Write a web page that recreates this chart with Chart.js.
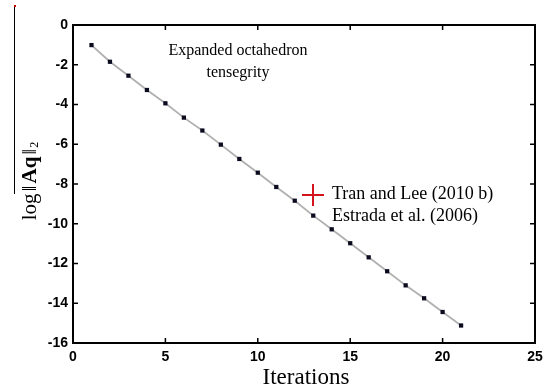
<!DOCTYPE html>
<html>
<head>
<meta charset="utf-8">
<script src="https://cdn.jsdelivr.net/npm/chart.js@4/dist/chart.umd.min.js"></script>
<style>
  html, body { margin: 0; padding: 0; background: #fff; }
  #wrap { width: 550px; height: 391px; }
</style>
</head>
<body>
<div id="wrap"><canvas id="myChart"></canvas></div>
<script>
// values
var iterations = [1, 2, 3, 4, 5, 6, 7, 8, 9, 10, 11, 12, 13, 14, 15, 16, 17, 18, 19, 20, 21];
var logAq = [-1.01, -1.85, -2.55, -3.27, -3.94, -4.66, -5.31, -6.02, -6.74, -7.43, -8.15,
             -8.84, -9.59, -10.28, -10.98, -11.69, -12.39, -13.10, -13.75, -14.44, -15.12];
var xTicks = [0, 5, 10, 15, 20, 25];
var yTicks = [0, -2, -4, -6, -8, -10, -12, -14, -16];
var legendNames = ['Tran and Lee (2010 b)', 'Estrada et al. (2006)'];
var noteLines = ['Expanded octahedron', 'tensegrity'];

var points = iterations.map(function (it, i) { return { x: it, y: logAq[i] }; });

// frame, inward ticks, titles, legend
var decor = {
  id: 'decor',
  afterDraw: function (chart) {
    var ctx = chart.ctx;
    var a = chart.chartArea;
    var xs = chart.scales.x, ys = chart.scales.y;
    ctx.save();
    ctx.strokeStyle = '#000';
    ctx.lineWidth = 2;
    ctx.strokeRect(a.left, a.top, a.right - a.left, a.bottom - a.top);
    ctx.lineWidth = 1.5;
    ctx.beginPath();
    xTicks.forEach(function (v) {
      var px = xs.getPixelForValue(v);
      ctx.moveTo(px, a.bottom); ctx.lineTo(px, a.bottom - 5);
      ctx.moveTo(px, a.top); ctx.lineTo(px, a.top + 5);
    });
    yTicks.forEach(function (v) {
      var py = ys.getPixelForValue(v);
      ctx.moveTo(a.left, py); ctx.lineTo(a.left + 5, py);
      ctx.moveTo(a.right, py); ctx.lineTo(a.right - 5, py);
    });
    ctx.stroke();

    // stray edge line in the scan
    ctx.lineWidth = 1;
    ctx.beginPath();
    ctx.moveTo(14.5, 7); ctx.lineTo(14.5, 194);
    ctx.stroke();
    ctx.fillStyle = '#c00';
    ctx.fillRect(14, 5, 2, 2);

    ctx.fillStyle = '#000';
    // x title
    ctx.font = '23px "Liberation Serif", "Times New Roman", serif';
    ctx.textAlign = 'center';
    ctx.textBaseline = 'alphabetic';
    ctx.fillText('Iterations', (a.left + a.right) / 2 + 2, 384);

    // y title: log||Aq||_2
    ctx.save();
    ctx.translate(36, 181);
    ctx.rotate(-Math.PI / 2);
    ctx.textBaseline = 'alphabetic';
    ctx.textAlign = 'left';
    var reg = '21px "Liberation Serif", serif';
    var parts = [
      ['log', reg, 0],
      ['\u2016', reg, 2],
      ['Aq', 'bold 21px "Liberation Serif", serif', 2],
      ['\u2016', reg, 2]
    ];
    var total = 0;
    parts.forEach(function (p) { ctx.font = p[1]; total += ctx.measureText(p[0]).width + p[2]; });
    ctx.font = '12px "Liberation Serif", serif';
    total += ctx.measureText('2').width + 1;
    var cx = -total / 2;
    parts.forEach(function (p) {
      ctx.font = p[1];
      cx += p[2];
      ctx.fillText(p[0], cx, 0);
      cx += ctx.measureText(p[0]).width;
    });
    ctx.font = '12px "Liberation Serif", serif';
    ctx.fillText('2', cx + 1, 2);
    ctx.restore();

    // note
    ctx.font = '16px "Liberation Serif", serif';
    ctx.textAlign = 'center';
    ctx.textBaseline = 'middle';
    ctx.fillText(noteLines[0], 238, 51);
    ctx.fillText(noteLines[1], 238, 73);

    // legend
    ctx.strokeStyle = '#d4141c';
    ctx.lineWidth = 2;
    ctx.beginPath();
    ctx.moveTo(302, 195); ctx.lineTo(324, 195);
    ctx.moveTo(313, 184); ctx.lineTo(313, 206);
    ctx.stroke();
    ctx.font = '18px "Liberation Serif", serif';
    ctx.textAlign = 'left';
    ctx.fillText(legendNames[0], 332, 194);
    ctx.fillText(legendNames[1], 332, 216);
    ctx.restore();
  }
};

var ctx = document.getElementById('myChart');

var graphData = {
  type: 'scatter',
  data: {
    datasets: [{
      label: legendNames[1],
      data: points,
      showLine: true,
      borderColor: '#b0b0b0',
      borderWidth: 1.8,
      pointStyle: 'rect',
      pointRadius: 3,
      pointBackgroundColor: '#0b0b20',
      pointBorderColor: '#0b0b20',
      pointBorderWidth: 0
    }]
  },
  options: {
    responsive: false,
    animation: false,
    devicePixelRatio: 1,
    layout: { padding: { left: 0, top: 25, right: 15, bottom: 0 } },
    plugins: { legend: { display: false }, tooltip: { enabled: false } },
    scales: {
      x: {
        type: 'linear', min: 0, max: 25,
        afterFit: function (s) { s.height = 48; },
        afterBuildTicks: function (s) { s.ticks = xTicks.map(function (v) { return { value: v }; }); },
        grid: { display: false, drawTicks: false },
        border: { display: false },
        ticks: { color: '#000', padding: 6, maxRotation: 0, font: { family: '"Liberation Sans", Arial, sans-serif', size: 14, weight: 'bold' } }
      },
      y: {
        type: 'linear', min: -16, max: 0,
        afterFit: function (s) { s.width = 73; },
        afterBuildTicks: function (s) { s.ticks = yTicks.map(function (v) { return { value: v }; }); },
        grid: { display: false, drawTicks: false },
        border: { display: false },
        ticks: { color: '#000', padding: 5, font: { family: '"Liberation Sans", Arial, sans-serif', size: 14, weight: 'bold' } }
      }
    }
  },
  plugins: [decor]
};

ctx.width = 550;
ctx.height = 391;
var myChart = new Chart(ctx, graphData);
</script>
</body>
</html>
